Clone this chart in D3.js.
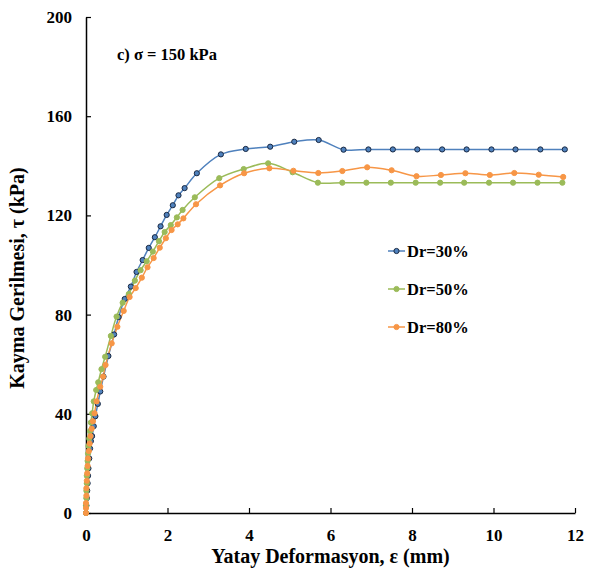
<!DOCTYPE html>
<html><head><meta charset="utf-8">
<script src="https://cdn.jsdelivr.net/npm/d3@7"></script>
<style>
html,body{margin:0;padding:0;background:#fff;}
text{font-family:"Liberation Serif","Times New Roman",serif;font-weight:bold;fill:#000;}
</style></head>
<body><svg id="c" width="590" height="570"></svg>
<script>
const xTicks = [0, 2, 4, 6, 8, 10, 12];
const yTicks = [0, 40, 80, 120, 160, 200];
const seriesNames = ["Dr=30%", "Dr=50%", "Dr=80%"];
const dr30 = [[0,0],[0.01,3],[0.02,6],[0.03,9],[0.04,12],[0.05,15],[0.06,18],[0.08,22],[0.1,26],[0.12,29],[0.15,31],[0.19,35],[0.23,39],[0.29,44],[0.35,49],[0.43,55],[0.55,63.3],[0.69,72],[0.8,79],[0.95,86.3],[1.10,91.3],[1.24,97.2],[1.39,102],[1.54,106.9],[1.69,111.2],[1.83,115.6],[1.98,120.2],[2.13,124.1],[2.27,128.1],[2.42,131],[2.72,137],[3.31,144.6],[3.92,146.8],[4.52,147.7],[5.11,149.7],[5.71,150.4],[6.32,146.5],[6.93,146.6],[7.53,146.6],[8.13,146.6],[8.74,146.6],[9.34,146.6],[9.95,146.6],[10.54,146.6],[11.15,146.6],[11.75,146.6]];
const dr50 = [[0,0],[0,3],[0.01,6],[0.01,9],[0.02,12],[0.02,15],[0.03,18],[0.04,21],[0.05,24],[0.06,27],[0.08,30],[0.1,33],[0.12,36.5],[0.15,40.2],[0.19,45],[0.25,49.6],[0.3,52.7],[0.38,58],[0.47,63],[0.61,71.4],[0.75,79.2],[0.90,84.8],[1.05,88.3],[1.20,93.7],[1.34,97.9],[1.49,101.5],[1.64,105.4],[1.79,109.6],[1.93,113.3],[2.08,116.1],[2.23,119.2],[2.37,122.2],[2.67,127.3],[3.27,135],[3.87,138.7],[4.47,141],[5.07,137.4],[5.69,133.2],[6.29,133.2],[6.88,133.2],[7.48,133.2],[8.09,133.2],[8.69,133.2],[9.28,133.2],[9.89,133.2],[10.48,133.2],[11.08,133.2],[11.69,133.2]];
const dr80 = [[0,0],[0,2],[0,4],[0.01,7],[0.01,10],[0.02,13],[0.03,16],[0.04,19],[0.05,22],[0.07,25],[0.09,28],[0.11,31],[0.14,34],[0.17,37],[0.21,40.2],[0.26,45],[0.35,50.9],[0.42,55],[0.48,59.7],[0.63,68.4],[0.77,75.1],[0.925,81.5],[1.07,87.1],[1.22,90.7],[1.37,94.9],[1.51,99.1],[1.66,102.8],[1.81,107],[1.96,110.8],[2.10,114.1],[2.25,116.4],[2.39,118.8],[2.70,124.5],[3.29,132.1],[3.88,137],[4.50,139],[5.09,138],[5.70,137.1],[6.29,137.9],[6.90,139.4],[7.50,138.2],[8.11,135.8],[8.71,136.3],[9.31,137],[9.91,136.3],[10.51,137.1],[11.11,136.4],[11.71,135.5]];
const colors = ["#4F81BD", "#9BBB59", "#F79646"];
const markerStroke = ["#1a2a44", "#9BBB59", "#F79646"];

const svg = d3.select("#c");
const x = d3.scaleLinear().domain([0, 12]).range([86, 575]);
const y = d3.scaleLinear().domain([0, 200]).range([513, 17]);

const xAxis = d3.axisBottom(x).tickValues(xTicks).tickSize(-5).tickSizeOuter(0).tickPadding(13);
const gx = svg.append("g").attr("transform", "translate(0,513)").call(xAxis);
const yAxis = d3.axisLeft(y).tickValues(yTicks).tickSize(-5).tickSizeOuter(0).tickPadding(14);
const gy = svg.append("g").attr("transform", "translate(86,0)").call(yAxis);
[gx, gy].forEach(g => {
  g.attr("font-family", null).attr("font-size", null);
  g.select(".domain").attr("stroke", "#000").attr("stroke-width", 1.5);
  g.selectAll(".tick line").attr("stroke", "#000").attr("stroke-width", 1.2);
  g.selectAll(".tick text").style("font-family", "'Liberation Serif',serif").style("font-weight", "bold").style("font-size", "17px").attr("fill", "#000");
});
gx.selectAll(".tick text").attr("dy", "0.9em");

const all = [dr30, dr50, dr80];
const line = d3.line().x(d => x(d[0])).y(d => y(d[1])).curve(d3.curveCatmullRom.alpha(0.5));
all.forEach((s, i) => {
  svg.append("path").datum(s).attr("d", line).attr("fill", "none").attr("stroke", colors[i]).attr("stroke-width", 1.5);
});
all.forEach((s, i) => {
  svg.append("g").selectAll("circle").data(s).join("circle")
    .attr("cx", d => x(d[0])).attr("cy", d => y(d[1])).attr("r", 2.6)
    .attr("fill", colors[i]).attr("stroke", markerStroke[i]).attr("stroke-width", 1);
});

seriesNames.forEach((n, i) => {
  const ly = 251 + i * 38;
  const g = svg.append("g");
  g.append("line").attr("x1", 388).attr("x2", 405).attr("y1", ly).attr("y2", ly).attr("stroke", colors[i]).attr("stroke-width", 1.5);
  g.append("circle").attr("cx", 396.5).attr("cy", ly).attr("r", 2.6).attr("fill", colors[i]).attr("stroke", markerStroke[i]).attr("stroke-width", 1);
  g.append("text").attr("x", 407).attr("y", ly + 6).style("font-size", "16.5px").text(n);
});

svg.append("text").attr("x", 117).attr("y", 60).style("font-size", "16.5px").text("c) σ = 150 kPa");

svg.append("text").attr("x", 330.5).attr("y", 563).attr("text-anchor", "middle").style("font-size", "20px").text("Yatay Deformasyon, ε (mm)");
svg.append("text").attr("transform", "translate(24,278) rotate(-90)").attr("text-anchor", "middle").style("font-size", "20px").text("Kayma Gerilmesi, τ (kPa)");
</script></body></html>
